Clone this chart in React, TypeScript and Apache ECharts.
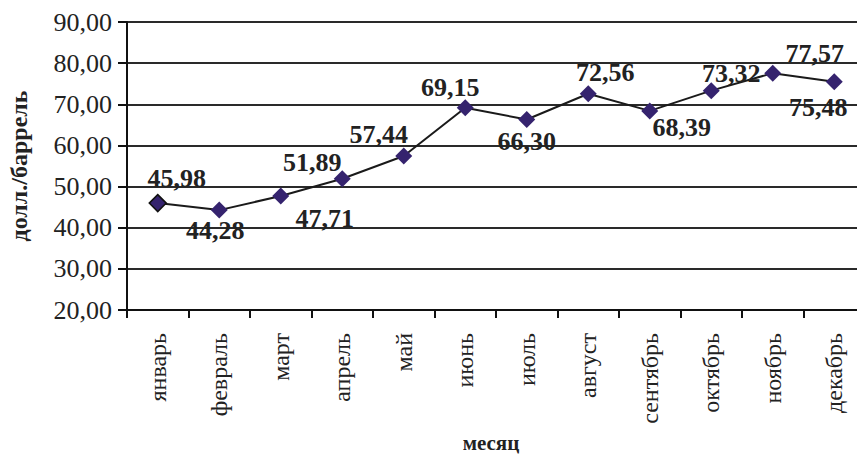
import React, { useEffect, useRef } from "react";
import * as echarts from "echarts";

const months = [
  "январь", "февраль", "март", "апрель", "май", "июнь",
  "июль", "август", "сентябрь", "октябрь", "ноябрь", "декабрь",
];

const prices = [45.98, 44.28, 47.71, 51.89, 57.44, 69.15, 66.3, 72.56, 68.39, 73.32, 77.57, 75.48];

// label nudges (px) relative to each marker, so the numbers don't collide with the line
const labelOffsets: [number, number][] = [
  [19, -25], [-4, 20], [44, 23], [-30, -16], [-25, -21], [-15, -20],
  [0, 22], [17, -21], [32, 17], [20, -17], [42, -20], [-16, 26],
];

const yMin = 20;
const yMax = 90;
const yStep = 10;

const fmt = (v: number) => v.toFixed(2).replace(".", ",");

const FONT = "serif";

export default function App() {
  const ref = useRef<HTMLDivElement>(null);

  useEffect(() => {
    if (!ref.current) return;
    const chart = echarts.init(ref.current, null, { renderer: "svg" });
    chart.setOption({
      animation: false,
      backgroundColor: "#ffffff",
      textStyle: { fontFamily: FONT },
      // fixed plot rectangle; the last category runs past the right edge
      grid: {
        left: 127,
        top: 22,
        width: 738,
        height: 288,
        containLabel: false,
        outerBoundsMode: "none",
      },
      xAxis: {
        type: "category",
        data: months,
        boundaryGap: true,
        name: "месяц",
        nameLocation: "middle",
        nameGap: 122,
        nameTextStyle: { fontFamily: FONT, fontSize: 21, fontWeight: "bold", color: "#222", padding: [0, 10, 0, 0] },
        axisLine: { lineStyle: { color: "#111", width: 2 } },
        axisTick: { show: true, alignWithLabel: false, length: 8, lineStyle: { color: "#111", width: 2 } },
        axisLabel: {
          rotate: 90,
          margin: 23,
          fontFamily: FONT,
          fontSize: 24,
          color: "#222",
        },
        splitLine: { show: false },
      },
      yAxis: {
        type: "value",
        min: yMin,
        max: yMax,
        interval: yStep,
        name: "долл./баррель",
        nameLocation: "middle",
        nameRotate: 90,
        nameGap: 96,
        nameTextStyle: { fontFamily: FONT, fontSize: 24, fontWeight: "bold", color: "#222" },
        axisLine: { show: true, lineStyle: { color: "#111", width: 2 } },
        axisTick: { show: true, length: 9, lineStyle: { color: "#111", width: 2 } },
        axisLabel: {
          margin: 15,
          fontFamily: FONT,
          fontSize: 26,
          color: "#222",
          formatter: (v: number) => fmt(v),
        },
        splitLine: { show: true, lineStyle: { color: "#2a2a2a", width: 2 } },
      },
      series: [
        {
          type: "line",
          data: prices.map((v, i) => ({
            value: v,
            label: { offset: labelOffsets[i] },
            itemStyle: i === 0 ? { borderColor: "#111", borderWidth: 1.5 } : undefined,
          })),
          symbol: "diamond",
          symbolSize: 17,
          itemStyle: { color: "#35236e" },
          lineStyle: { color: "#1a1a1a", width: 2 },
          label: {
            show: true,
            position: "inside",
            align: "center",
            verticalAlign: "middle",
            fontFamily: FONT,
            fontSize: 26,
            fontWeight: "bold",
            color: "#222",
            formatter: (p: any) => fmt(p.value),
          },
          z: 3,
        },
      ],
    });
    return () => chart.dispose();
  }, []);

  return (
    <div
      ref={ref}
      style={{ position: "fixed", left: 0, top: 0, width: 857, height: 457 }}
    />
  );
}
